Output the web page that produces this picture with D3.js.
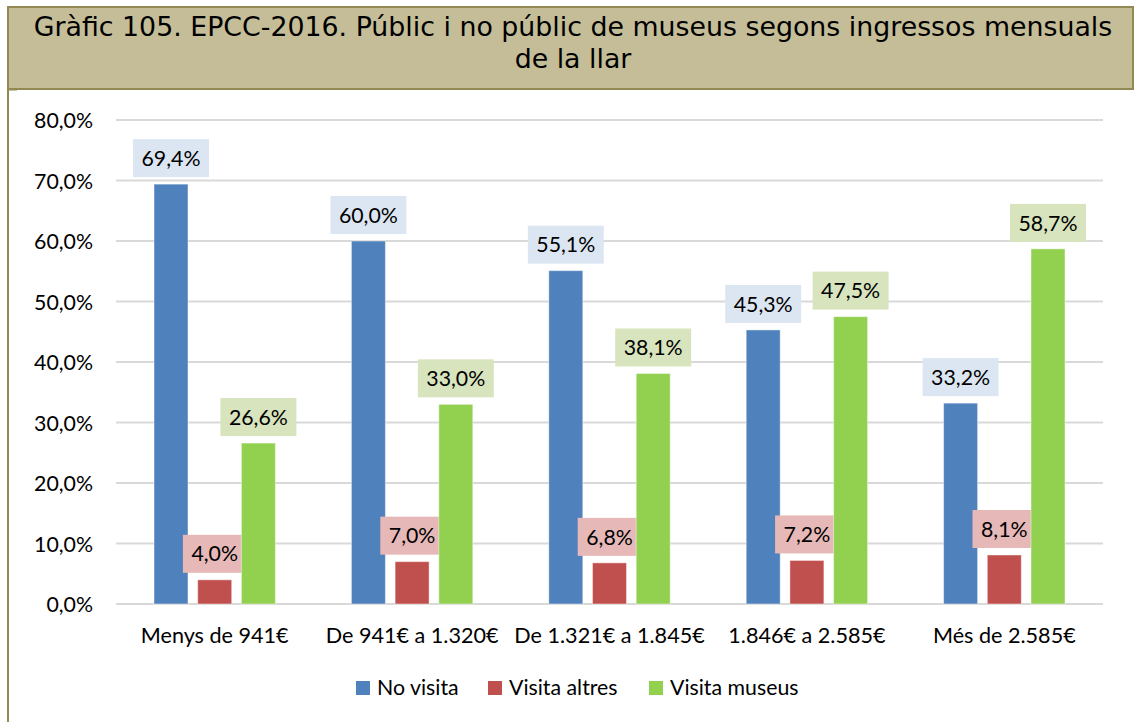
<!DOCTYPE html>
<html>
<head>
<meta charset="utf-8">
<script src="https://cdn.jsdelivr.net/npm/d3@7/dist/d3.min.js"></script>
<style>
  html, body { margin: 0; padding: 0; background: #fff; }
  svg { display: block; }
</style>
</head>
<body>
<svg id="chart" width="1134" height="722"></svg>
<script>
// Household income bands
const categories = ["Menys de 941€", "De 941€ a 1.320€", "De 1.321€ a 1.845€", "1.846€ a 2.585€", "Més de 2.585€"];
// Series names
const seriesNames = ["No visita", "Visita altres", "Visita museus"];
// Percentages per series, one value per income band
const noVisita = [69.4, 60.0, 55.1, 45.3, 33.2];
const visitaAltres = [4.0, 7.0, 6.8, 7.2, 8.1];
const visitaMuseus = [26.6, 33.0, 38.1, 47.5, 58.7];
// Y axis ticks
const yTicks = [0, 10, 20, 30, 40, 50, 60, 70, 80];

const titleLines = ["Gràfic 105. EPCC-2016. Públic i no públic de museus segons ingressos mensuals", "de la llar"];

const barColors = ["#4f81bd", "#c0504d", "#92d050"];
const labelFills = ["#dce6f2", "#e6b9b8", "#d7e4bd"];

const series = [noVisita, visitaAltres, visitaMuseus];
const fmt = v => v.toFixed(1).replace(".", ",") + "%";

const svg = d3.select("#chart");
const labelFont = "Lato, 'Open Sans', sans-serif";

// Title panel
svg.append("rect")
  .attr("x", 8).attr("y", 7).attr("width", 1125).attr("height", 82)
  .attr("fill", "#c4bd97").attr("stroke", "#938953").attr("stroke-width", 2);
svg.append("line")
  .attr("x1", 8).attr("x2", 8).attr("y1", 89).attr("y2", 722)
  .attr("stroke", "#938953").attr("stroke-width", 2);
svg.append("line")
  .attr("x1", 8).attr("x2", 17).attr("y1", 90).attr("y2", 90)
  .attr("stroke", "#938953").attr("stroke-width", 1);

const title = svg.append("text")
  .attr("text-anchor", "middle")
  .attr("font-family", "'DejaVu Sans', Verdana, sans-serif")
  .attr("font-size", 26.8)
  .attr("fill", "#000");
title.selectAll("tspan").data(titleLines).join("tspan")
  .attr("x", 573)
  .attr("y", (d, i) => 36 + i * 32)
  .text(d => d);

// Scales
const x0 = d3.scaleBand().domain(categories).range([116, 1103]).padding(0);
const x1 = d3.scaleBand().domain(d3.range(3)).range([38, 159.4]).paddingInner(0.222).paddingOuter(0);
const y = d3.scaleLinear().domain([0, 80]).range([604, 120]);

// Gridlines
svg.append("g").selectAll("line").data(yTicks).join("line")
  .attr("x1", 116).attr("x2", 1103)
  .attr("y1", d => y(d)).attr("y2", d => y(d))
  .attr("stroke", "#d9d9d9").attr("stroke-width", 2);

// Y axis
const yAxis = svg.append("g")
  .attr("transform", "translate(93,0)")
  .call(d3.axisLeft(y).tickValues(yTicks).tickSize(0).tickPadding(0).tickFormat(fmt));
yAxis.select(".domain").remove();
yAxis.selectAll("text")
  .attr("font-family", labelFont).attr("font-size", 21.3).attr("fill", "#000")
  .attr("dy", "0.36em");

// X axis labels
const xAxis = svg.append("g")
  .attr("transform", "translate(0,604)")
  .call(d3.axisBottom(x0).tickSize(0).tickPadding(0));
xAxis.select(".domain").remove();
xAxis.selectAll("text")
  .attr("font-family", labelFont).attr("font-size", 21.6).attr("fill", "#000")
  .attr("y", 39).attr("dy", 0);

// Bars and labels
const groups = svg.append("g").selectAll("g").data(categories).join("g")
  .attr("transform", d => `translate(${x0(d)},0)`);

const cells = groups.selectAll("g").data((c, ci) => series.map((s, si) => ({ si, v: s[ci] }))).join("g");

cells.append("rect")
  .attr("x", d => x1(d.si))
  .attr("width", x1.bandwidth())
  .attr("y", d => y(d.v))
  .attr("height", d => y(0) - y(d.v))
  .attr("fill", d => barColors[d.si])
  .attr("stroke", "rgba(255,255,255,0.45)")
  .attr("stroke-width", 1);

cells.each(function(d) {
  const g = d3.select(this);
  const cx = x1(d.si) + x1.bandwidth() / 2;
  const t = g.append("text")
    .attr("x", cx)
    .attr("y", y(d.v) - 7 - 19)
    .attr("dy", "0.36em")
    .attr("text-anchor", "middle")
    .attr("font-family", labelFont).attr("font-size", 21.3).attr("fill", "#000")
    .text(fmt(d.v));
  const w = t.node().getComputedTextLength() + 17;
  g.insert("rect", "text")
    .attr("x", cx - w / 2)
    .attr("y", y(d.v) - 7 - 38)
    .attr("width", w)
    .attr("height", 38)
    .attr("fill", labelFills[d.si]);
});

// Legend
const legendX = [356, 488, 649];
const legend = svg.append("g").selectAll("g").data(seriesNames).join("g")
  .attr("transform", (d, i) => `translate(${legendX[i]},681)`);
legend.append("rect").attr("width", 14).attr("height", 14).attr("fill", (d, i) => barColors[i]);
legend.append("text")
  .attr("x", 21).attr("y", 14)
  .attr("font-family", labelFont).attr("font-size", 21.3).attr("fill", "#000")
  .text(d => d);
</script>
</body>
</html>
